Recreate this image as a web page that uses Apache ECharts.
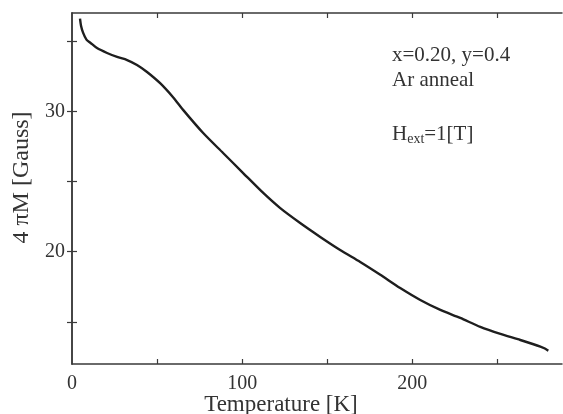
<!DOCTYPE html>
<html>
<head>
<meta charset="utf-8">
<script src="https://cdn.jsdelivr.net/npm/echarts@6/dist/echarts.min.js"></script>
<style>
html,body{margin:0;padding:0;background:#fff;}
#chart{width:563px;height:414px;}
</style>
</head>
<body>
<div id="chart"></div>
<script>
const temperature = [4.7, 5.3, 6.5, 8.5, 10.6, 14.7, 20.6, 26.5, 32.4, 38.2, 44.1, 51.8, 59.4, 65.3, 77.1, 88.8, 100.6, 112.4, 122.4, 134.1, 145.9, 157.6, 169.4, 181.2, 192.9, 204.7, 216.5, 228.2, 240, 251.8, 263.5, 275.3, 280];
const magnetization = [36.6, 36.1, 35.6, 35.1, 34.9, 34.5, 34.15, 33.87, 33.65, 33.3, 32.8, 32.0, 31.0, 30.1, 28.45, 27.03, 25.6, 24.18, 23.1, 22.04, 21.05, 20.12, 19.26, 18.35, 17.41, 16.56, 15.85, 15.28, 14.64, 14.14, 13.71, 13.23, 12.95];
const xTicks = [50, 100, 150, 200, 250];
const xTickLabels = [0, 100, 200];
const yTicks = [15, 20, 25, 30, 35];
const yTickLabels = [20, 30];
const xRange = [0, 288];
const yRange = [12, 37];

const axisColor = '#3a3a3a';
const serif = '"Liberation Serif","DejaVu Serif",serif';

const chart = echarts.init(document.getElementById('chart'));
const baseX = {
  type: 'value', min: xRange[0], max: xRange[1],
  axisLine: {show: true, lineStyle: {color: axisColor, width: 1.5}},
  axisTick: {show: true, inside: true, length: 5, customValues: xTicks, lineStyle: {color: axisColor, width: 1.2}},
  splitLine: {show: false}
};
const baseY = {
  type: 'value', min: yRange[0], max: yRange[1],
  axisLine: {show: true, lineStyle: {color: axisColor, width: 1.5}},
  axisTick: {show: true, inside: true, length: 5, customValues: yTicks, lineStyle: {color: axisColor, width: 1.2}},
  splitLine: {show: false}
};
const data = temperature.map((t, i) => [t, magnetization[i]]);

chart.setOption({
  animation: false,
  backgroundColor: '#fff',
  grid: {left: 72, right: 1, top: 13, bottom: 50, containLabel: false, outerBoundsMode: 'none'},
  xAxis: [
    Object.assign({}, baseX, {
      position: 'bottom',
      name: 'Temperature [K]', nameLocation: 'middle', nameGap: 29, nameMoveOverlap: false,
      nameTextStyle: {fontFamily: serif, fontSize: 23, color: '#333', padding: [0, 72, 0, 0]},
      axisLabel: {show: true, customValues: xTickLabels, fontFamily: serif, fontSize: 20, color: '#333', margin: 10}
    }),
    Object.assign({}, baseX, {position: 'top', axisLabel: {show: false}})
  ],
  yAxis: [
    Object.assign({}, baseY, {
      position: 'left',
      name: '4 \u03c0M [Gauss]', nameLocation: 'middle', nameGap: 35, nameRotate: 90,
      nameTextStyle: {fontFamily: serif, fontSize: 24, color: '#333', padding: [0, 0, 0, 22]},
      axisLabel: {show: true, customValues: yTickLabels, fontFamily: serif, fontSize: 20, color: '#333', margin: 7}
    }),
    Object.assign({}, baseY, {position: 'right', axisLabel: {show: false}})
  ],
  series: [{
    type: 'line',
    xAxisIndex: 0, yAxisIndex: 0,
    data: data,
    smooth: 0.25,
    showSymbol: false,
    lineStyle: {color: '#1e1e1e', width: 2.4}
  }],
  graphic: [
    {type: 'text', left: 392, top: 45, style: {text: 'x=0.20, y=0.4', font: '21px "Liberation Serif", serif', fill: '#333'}},
    {type: 'text', left: 392, top: 70, style: {text: 'Ar anneal', font: '21px "Liberation Serif", serif', fill: '#333'}},
    {type: 'text', left: 392, top: 124, style: {
      text: '{h|H}{s|ext}{h|=1[T]}',
      rich: {
        h: {fontFamily: serif, fontSize: 21, fill: '#333', color: '#333'},
        s: {fontFamily: serif, fontSize: 14, fill: '#333', color: '#333', padding: [10, 0, 0, 0]}
      }
    }}
  ]
});
</script>
</body>
</html>
